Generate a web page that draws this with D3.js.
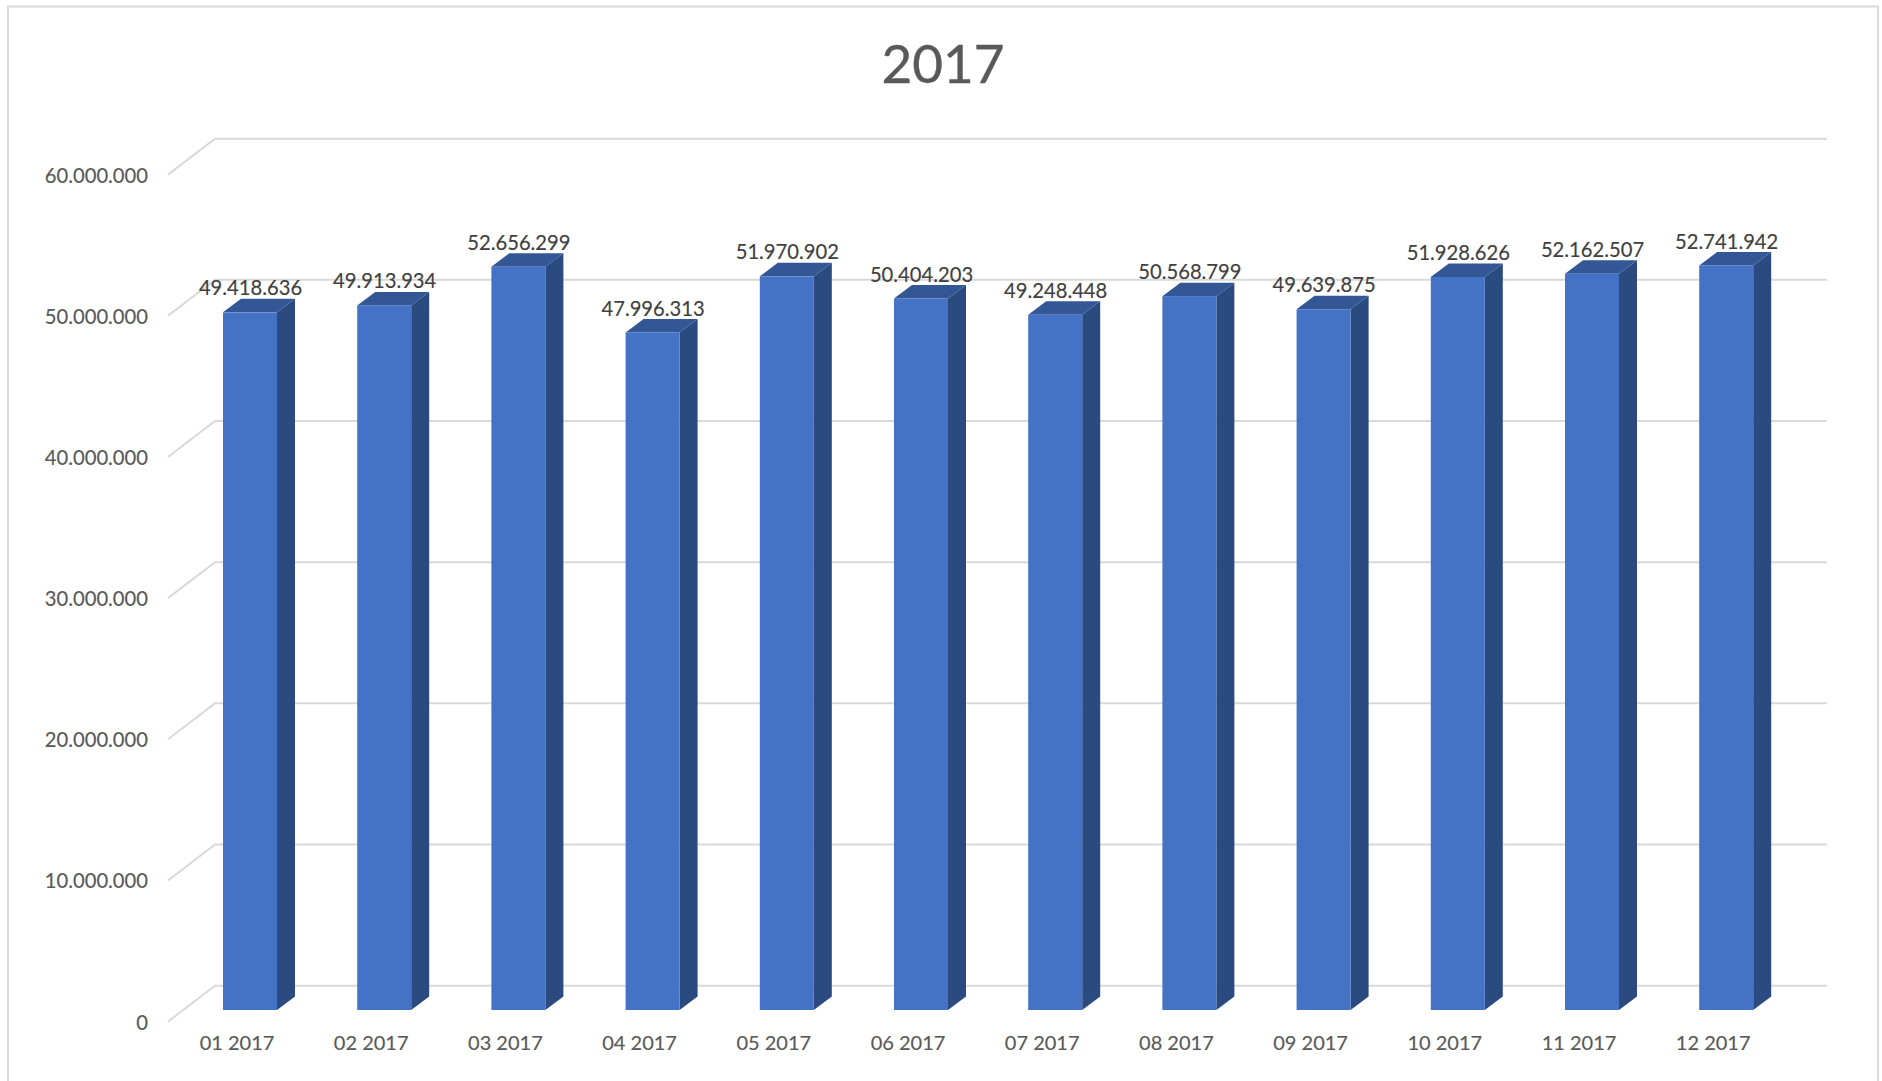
<!DOCTYPE html>
<html><head><meta charset="utf-8">
<script src="https://cdn.jsdelivr.net/npm/d3@7"></script>
<style>html,body{margin:0;padding:0;background:#fff}svg{display:block}text{paint-order:stroke}</style>
</head><body><svg id="c" width="1882" height="1081"></svg>
<script>
const categories = ["01 2017","02 2017","03 2017","04 2017","05 2017","06 2017","07 2017","08 2017","09 2017","10 2017","11 2017","12 2017"];
const values = [49418636,49913934,52656299,47996313,51970902,50404203,49248448,50568799,49639875,51928626,52162507,52741942];
const yTicks = [0,10000000,20000000,30000000,40000000,50000000,60000000];
const titleText = "2017";

const FONT = "Lato, 'Open Sans', sans-serif";
const svg = d3.select("#c");
const fmt = d3.formatLocale({decimal:",",thousands:".",grouping:[3],currency:["",""]}).format(",d");

const y = d3.scaleLinear().domain([0,60000000]).range([1010,163]);
const x = d3.scaleBand().domain(categories).range([182.9,1793.3]).paddingInner(0.5976).paddingOuter(0.2988);
const depthX = 18, depthY = 13.5;

// frame
svg.append("path").attr("d","M8,1081V6.5H1878V1081").attr("fill","none").attr("stroke","#d9d9d9").attr("stroke-width",2);

// title
svg.append("text").attr("x",943).attr("y",83).attr("text-anchor","middle")
  .attr("font-family",FONT).attr("font-size",53).attr("fill","#595959")
  .attr("stroke","#595959").attr("stroke-width",0.4).text(titleText);

// gridlines with floor/wall perspective
svg.append("g").selectAll("path").data(yTicks).join("path")
  .attr("d",d=>{const v=y(d);return `M168,${v+11.6}L215,${v-24.3}H1827`;})
  .attr("fill","none").attr("stroke","#d9d9d9").attr("stroke-width",2);

// y axis labels
const ay = svg.append("g").attr("transform","translate(148,12.6)")
  .call(d3.axisLeft(y).tickValues(yTicks).tickFormat(fmt).tickSize(0).tickPadding(0));
ay.select(".domain").remove();
ay.selectAll("text").attr("font-family",FONT).attr("font-size",20.2).attr("fill","#595959")
  .attr("stroke","#595959").attr("stroke-width",0.15);

// x axis labels
const ax = svg.append("g").attr("transform","translate(-13,1036)")
  .call(d3.axisBottom(x).tickSize(0).tickPadding(0));
ax.select(".domain").remove();
ax.selectAll("text").attr("font-family",FONT).attr("font-size",20).attr("fill","#595959")
  .attr("stroke","#595959").attr("stroke-width",0.15);

// bars
const bars = svg.append("g").selectAll("g").data(values).join("g");
const bx = (d,i)=>x(categories[i]);
bars.append("path").attr("fill","#2a4a80")
  .attr("d",(d,i)=>{const l=bx(d,i)+x.bandwidth();return `M${l},${y(d)}l${depthX},${-depthY}V${y(0)-depthY}l${-depthX},${depthY}Z`;});
bars.append("path").attr("fill","#335695")
  .attr("d",(d,i)=>{const l=bx(d,i),w=x.bandwidth();return `M${l},${y(d)}l${depthX},${-depthY}h${w}l${-depthX},${depthY}Z`;});
bars.append("rect").attr("fill","#4472c4")
  .attr("x",(d,i)=>bx(d,i)).attr("y",d=>y(d)).attr("width",x.bandwidth()).attr("height",d=>y(0)-y(d));

// value labels
svg.append("g").selectAll("text").data(values).join("text")
  .attr("x",(d,i)=>bx(d,i)+x.bandwidth()/2+0.5).attr("y",d=>y(d)-16.9)
  .attr("text-anchor","middle").attr("font-family",FONT).attr("font-size",20.2).attr("fill","#404040")
  .attr("stroke","#404040").attr("stroke-width",0.15)
  .text(d=>fmt(d));
</script></body></html>
